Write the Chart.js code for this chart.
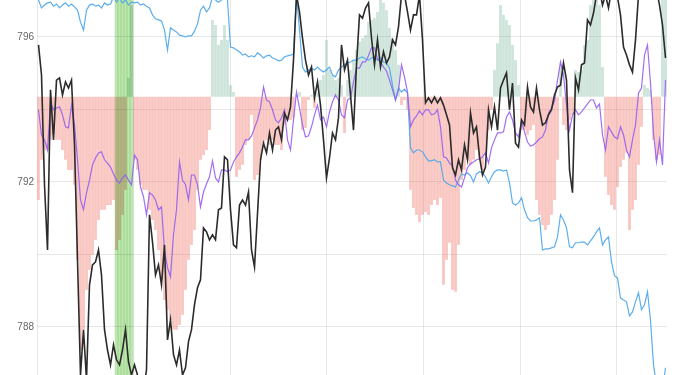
<!DOCTYPE html>
<html>
<head>
<meta charset="utf-8">
<script src="https://cdn.jsdelivr.net/npm/chart.js@4.4.1/dist/chart.umd.min.js"></script>
<style>
    html, body { margin: 0; padding: 0; background: #fff; overflow: hidden; }
    #wrap { width: 685px; height: 375px; }
</style>
</head>
<body>
<div id="wrap"><canvas id="chart" width="685" height="375"></canvas></div>
<script>

// DATA (one value per time step)

const black = [
    795.78, 794.95, 791.92, 790.12, 794.54, 793.16, 794.81, 794.87, 794.40, 794.76,
    794.59, 794.81, 793.02, 789.85, 786.67, 787.92, 786.54, 789.16, 789.71, 789.79,
    790.12, 789.43, 787.92, 787.36, 786.95, 787.50, 787.09, 786.95, 787.36, 787.92,
    787.03, 786.67, 786.95, 786.67, 786.21, 786.26, 786.81, 791.09, 790.34, 789.43,
    789.71, 789.16, 790.26, 787.64, 788.19, 787.23, 786.95, 787.36, 786.67, 786.87,
    787.59, 787.92, 788.61, 789.08, 789.30, 790.73, 790.62, 790.40, 790.54, 790.40,
    791.23, 791.28, 792.69, 792.61, 791.23, 790.26, 790.18, 791.36, 791.50, 791.36,
    791.72, 790.12, 789.65, 791.12, 792.61, 793.07, 792.80, 793.35, 792.88, 793.43,
    793.52, 793.16, 793.90, 793.71, 794.07, 795.36, 797.16, 796.69, 795.97, 795.36,
    794.95, 795.17, 794.32, 794.76, 794.12, 793.16, 792.11, 792.66, 793.35, 793.16,
    793.77, 795.78, 795.09, 795.36, 794.40, 793.43, 795.23, 796.61, 796.52, 796.80,
    796.94, 795.97, 795.23, 795.92, 795.17, 795.59, 795.28, 795.45, 795.92, 795.78,
    796.28, 797.16, 797.16, 796.69, 796.19, 796.61, 796.61, 797.16, 795.92, 794.18,
    794.32, 794.18, 794.34, 794.18, 794.32, 794.12, 793.85, 793.57, 792.39, 792.19,
    792.61, 792.33, 793.02, 792.61, 793.90, 793.35, 793.52, 792.69, 792.19, 792.41,
    793.99, 793.52, 794.07, 793.43, 794.59, 794.81, 795.01, 793.99, 794.73, 793.07,
    792.96, 793.71, 793.57, 794.62, 794.07, 793.93, 794.59, 793.99, 793.57, 793.63,
    793.85, 793.99, 794.40, 794.62, 794.67, 795.28, 794.81, 792.33, 791.70, 794.87,
    794.54, 795.23, 795.28, 796.47, 796.33, 796.66, 797.16, 797.30, 796.88, 797.16,
    796.80, 797.30, 797.16, 797.10, 796.61, 795.72, 795.50, 795.23, 795.03, 795.92,
    797.16, 797.43, 797.30, 797.57, 797.30, 797.16, 797.30, 796.88, 796.33, 795.42
];

const purple = [
    793.99, 793.30, 793.16, 792.88, 794.18, 793.99, 794.04, 794.07, 793.85, 793.52,
    793.49, 794.12, 793.57, 792.61, 791.50, 791.23, 791.70, 792.05, 792.47, 792.66,
    792.80, 792.83, 792.61, 792.52, 792.41, 792.22, 792.05, 791.97, 792.11, 792.19,
    792.05, 791.92, 792.74, 792.61, 791.86, 791.59, 791.09, 791.70, 791.64, 791.50,
    791.23, 791.31, 790.12, 789.63, 789.38, 790.54, 791.23, 792.55, 792.05, 791.92,
    791.50, 792.19, 792.19, 791.92, 791.31, 791.72, 791.94, 792.14, 792.58, 792.11,
    792.00, 792.33, 792.33, 792.28, 792.33, 792.55, 792.69, 792.80, 792.96, 793.16,
    793.16, 793.27, 793.49, 793.71, 794.04, 794.62, 794.26, 794.21, 793.99, 793.71,
    793.63, 793.77, 793.99, 793.16, 792.88, 793.71, 794.48, 794.04, 793.57, 793.24,
    793.27, 793.52, 793.85, 794.12, 793.71, 793.79, 793.52, 793.93, 794.21, 794.40,
    794.26, 793.85, 793.77, 794.26, 794.32, 794.76, 795.14, 795.14, 795.31, 795.31,
    795.48, 795.70, 795.70, 795.39, 795.31, 795.17, 795.06, 794.81, 794.54, 794.26,
    794.54, 795.23, 794.90, 794.48, 793.52, 793.71, 793.82, 793.96, 793.85, 793.99,
    793.99, 793.85, 793.88, 793.99, 793.52, 792.69, 792.66, 792.52, 792.44, 792.05,
    791.92, 791.86, 792.11, 792.39, 792.50, 792.55, 792.61, 792.63, 792.69, 792.80,
    792.52, 792.94, 793.16, 793.35, 793.35, 793.38, 793.79, 793.93, 793.71, 793.35,
    793.24, 793.68, 793.38, 793.10, 792.99, 793.02, 793.10, 793.19, 793.24, 793.43,
    793.90, 794.04, 794.23, 794.81, 795.31, 794.95, 794.12, 793.43, 793.85, 793.99,
    793.85, 793.93, 794.04, 794.15, 794.26, 794.26, 794.04, 794.15, 793.30, 792.88,
    793.52, 793.38, 793.24, 793.19, 793.52, 793.30, 792.88, 792.69, 793.16, 793.57,
    794.45, 794.59, 795.50, 795.78, 794.73, 793.35, 792.55, 793.16, 792.47, 794.81
];

const blue = [
    797.02, 796.80, 796.88, 796.94, 796.96, 796.85, 796.91, 796.80, 796.88, 796.94,
    796.85, 796.91, 796.83, 796.74, 796.41, 796.19, 796.74, 796.88, 796.91, 796.85,
    796.88, 796.80, 796.94, 796.88, 796.91, 797.10, 796.96, 797.08, 796.94, 797.02,
    796.88, 796.96, 796.94, 796.96, 796.88, 796.91, 796.85, 796.80, 796.61, 796.50,
    796.47, 796.44, 796.19, 795.64, 796.25, 796.19, 796.14, 796.05, 796.03, 796.00,
    796.03, 796.03, 796.16, 796.36, 796.74, 796.85, 796.69, 796.80, 797.10, 797.02,
    796.96, 797.02, 797.10, 797.02, 795.72, 795.70, 795.64, 795.59, 795.50, 795.53,
    795.45, 795.48, 795.45, 795.56, 795.50, 795.42, 795.48, 795.50, 795.42, 795.39,
    795.34, 795.36, 795.45, 795.48, 795.50, 795.53, 797.16, 796.19, 795.17, 795.03,
    795.09, 795.14, 795.09, 795.17, 795.09, 795.03, 795.09, 795.17, 794.95, 794.90,
    795.09, 795.17, 795.23, 795.28, 795.31, 795.36, 795.36, 795.42, 795.45, 795.39,
    795.36, 795.42, 795.45, 795.36, 795.42, 795.31, 795.28, 795.14, 794.67, 794.26,
    794.59, 794.48, 794.56, 794.45, 792.94, 792.80, 792.88, 792.88, 792.83, 792.69,
    792.58, 792.58, 792.61, 792.55, 792.55, 792.05, 791.97, 791.92, 791.89, 791.86,
    792.05, 792.22, 792.19, 792.25, 792.17, 792.00, 792.22, 792.28, 792.25, 792.14,
    791.97, 792.14, 792.28, 792.33, 792.33, 792.30, 792.33, 791.97, 791.42, 791.36,
    791.42, 791.56, 791.23, 791.01, 790.92, 790.92, 790.95, 791.01, 790.12, 790.15,
    790.15, 790.18, 790.21, 790.48, 791.09, 790.95, 790.73, 790.21, 790.18, 790.32,
    790.32, 790.34, 790.34, 790.26, 790.37, 790.48, 790.62, 790.73, 790.26, 790.40,
    790.48, 789.79, 789.41, 789.35, 788.80, 788.74, 788.69, 788.30, 788.41, 788.69,
    788.94, 788.47, 788.61, 788.97, 788.19, 786.95, 786.40, 786.12, 786.26, 786.87
];

const bars = [
    791.50, 792.61, 792.88, 792.88, 793.16, 793.30, 793.16, 793.16, 792.88, 792.61,
    792.33, 792.33, 791.92, 789.85, 787.36, 787.92, 789.02, 789.57, 789.98, 790.40,
    790.95, 791.23, 791.23, 791.36, 791.36, 791.50, 790.12, 790.40, 791.09, 791.78,
    794.87, 796.88, 792.61, 792.33, 791.92, 791.78, 791.78, 791.23, 790.95, 790.67,
    790.12, 789.30, 788.74, 788.47, 788.19, 787.92, 787.92, 788.05, 788.33, 789.02,
    789.85, 790.26, 790.67, 791.78, 792.61, 792.74, 792.88, 793.43, 796.47, 796.33,
    795.78, 795.92, 796.33, 795.92, 794.67, 794.48, 792.14, 792.33, 792.47, 793.02,
    793.16, 793.85, 792.05, 792.19, 792.61, 793.07, 793.16, 793.02, 793.16, 793.02,
    793.02, 792.88, 793.57, 793.71, 793.71, 793.77, 794.40, 794.48, 793.43, 793.49,
    794.26, 794.40, 794.04, 794.45, 794.81, 794.95, 795.92, 795.09, 794.95, 794.81,
    794.87, 794.67, 793.35, 794.81, 795.09, 795.36, 795.64, 795.86, 795.97, 796.05,
    796.41, 796.47, 796.52, 796.69, 797.02, 796.94, 796.74, 796.25, 795.97, 795.64,
    795.23, 794.12, 794.26, 793.99, 791.78, 791.28, 791.09, 790.89, 791.09, 791.17,
    791.09, 791.36, 791.50, 791.36, 791.56, 789.16, 789.85, 790.32, 789.02, 788.97,
    790.26, 792.05, 792.33, 792.61, 792.47, 792.61, 792.88, 792.61, 792.33, 792.74,
    793.43, 793.99, 795.09, 795.83, 796.88, 796.61, 796.47, 796.33, 795.78, 795.36,
    794.67, 793.43, 793.43, 793.30, 793.43, 793.57, 791.50, 791.09, 790.81, 790.67,
    790.81, 791.09, 791.50, 792.61, 795.17, 793.57, 793.43, 793.71, 793.85, 795.09,
    795.03, 795.09, 795.78, 795.92, 796.88, 797.02, 797.02, 796.88, 795.17, 792.14,
    791.64, 791.36, 791.23, 791.86, 792.41, 792.61, 792.80, 790.67, 791.23, 791.50,
    792.47, 793.52, 794.67, 794.59, 794.54, 793.16, 792.61, 792.74, 797.02, 797.02
];

const baseLevel = 794.35;          // bars start from this level
const bandStart = 26;              // highlighted period (green band)
const bandEnd = 31;
const yMin = 786.67;
const yMax = 797.02;
const yTicks = [788, 790, 792, 794, 796];
const gridEvery = 32.22;           // vertical grid spacing, in time steps

const steps = black.map((v, i) => i);

const gridColor = "rgba(0,0,0,0.09)";
const redBar = "rgba(235,90,75,0.35)";
const greenBar = "rgba(100,170,140,0.32)";

// band is multiplied onto what is under it
const multiplyBand = {
    id: "multiplyBand",
    beforeDatasetDraw(chart, args) {
        if (chart.data.datasets[args.index].label === "band") {
            chart.ctx.save();
            chart.ctx.globalCompositeOperation = "multiply";
        }
    },
    afterDatasetDraw(chart, args) {
        if (chart.data.datasets[args.index].label === "band") {
            chart.ctx.restore();
        }
    }
};

function noPadding(s) {
    s.paddingTop = 0;
    s.paddingBottom = 0;
    s.paddingLeft = 0;
    s.paddingRight = 0;
}

function renderChart() {
    const canvas = document.getElementById("chart");

    const barData = bars.map(v => [baseLevel, v]);
    const bandData = steps.map(i => (i >= bandStart && i <= bandEnd) ? [yMin, yMax] : null);
    const gridTicks = [];
    for (let k = 0; k * gridEvery < steps.length - 1; k++) {
        gridTicks.push({ value: k * gridEvery });
    }

    new Chart(canvas, {
        type: "line",
        data: {
            labels: steps,
            datasets: [
                {
                    type: "line", label: "black", data: black, xAxisID: "x",
                    borderColor: "#2b2b2b", borderWidth: 1.6,
                    pointRadius: 0, tension: 0, order: 0
                },
                {
                    type: "line", label: "purple", data: purple, xAxisID: "x",
                    borderColor: "rgba(150,95,240,0.9)", borderWidth: 1.2,
                    pointRadius: 0, tension: 0, order: 1
                },
                {
                    type: "line", label: "blue", data: blue, xAxisID: "x",
                    borderColor: "rgba(75,165,235,0.9)", borderWidth: 1.2,
                    pointRadius: 0, tension: 0, order: 2
                },
                {
                    type: "bar", label: "band", data: bandData, xAxisID: "x",
                    backgroundColor: "rgb(190,230,176)",
                    barPercentage: 1, categoryPercentage: 1, grouped: false, order: 3
                },
                {
                    type: "bar", label: "diff", data: barData, xAxisID: "x",
                    backgroundColor: ctx => bars[ctx.dataIndex] >= baseLevel ? greenBar : redBar,
                    barPercentage: 0.92, categoryPercentage: 1, grouped: false, order: 4
                }
            ]
        },
        options: {
            responsive: false,
            animation: false,
            layout: { autoPadding: false, padding: { left: 0, right: 18, top: 0, bottom: 0 } },
            plugins: {
                legend: { display: false },
                tooltip: { enabled: false }
            },
            scales: {
                x: {
                    type: "category",
                    display: false,
                    offset: true
                },
                xg: {
                    type: "linear",
                    position: "bottom",
                    min: 0,
                    max: steps.length,
                    offset: false,
                    afterBuildTicks: s => { s.ticks = gridTicks; },
                    afterFit: s => { s.height = 0; noPadding(s); },
                    ticks: { display: false },
                    grid: { color: gridColor, drawTicks: false, offset: false },
                    border: { display: false }
                },
                y: {
                    min: yMin,
                    max: yMax,
                    afterBuildTicks: s => { s.ticks = yTicks.map(v => ({ value: v })); },
                    afterFit: s => { s.width = 37; noPadding(s); },
                    ticks: {
                        callback: v => (v % 4 === 0 ? String(v) : ""),
                        color: "#666",
                        font: { size: 10 },
                        padding: 3
                    },
                    grid: { color: gridColor, drawTicks: false },
                    border: { display: false }
                }
            }
        },
        plugins: [multiplyBand]
    });
}

renderChart();
</script>
</body>
</html>
